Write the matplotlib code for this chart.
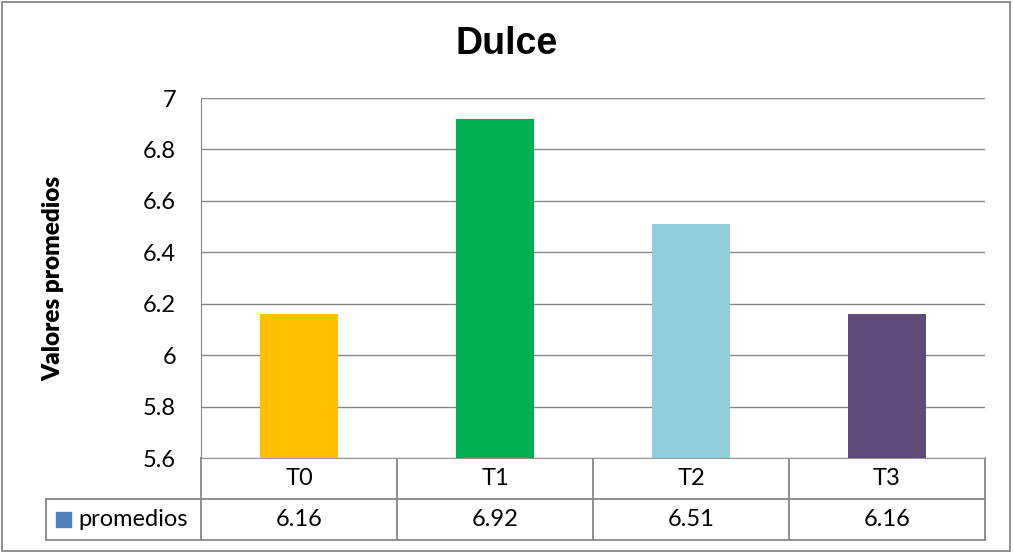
import numpy as np
import matplotlib.pyplot as plt
from matplotlib.patches import Rectangle

# Datos del grafico
tratamientos = ['T0', 'T1', 'T2', 'T3']
promedios = [6.16, 6.92, 6.51, 6.16]
colores = ['#FFC000', '#00B050', '#92CDDC', '#604A7B']
serie = 'promedios'
y_ticks = [5.6, 5.8, 6.0, 6.2, 6.4, 6.6, 6.8, 7.0]

plt.rcParams['font.family'] = ['Lato', 'DejaVu Sans']
gris = '#868686'
W, H = 1013, 554
fs = 17

fig = plt.figure(figsize=(W / 100, H / 100), dpi=100)

# Area de trazado (en pixeles del lienzo)
x0, x1, y_top, y_bot = 201, 985, 98, 458
ax = fig.add_axes([x0 / W, 1 - y_bot / H, (x1 - x0) / W, (y_bot - y_top) / H])
x = np.arange(len(tratamientos))
ax.bar(x, promedios, width=0.4, color=colores, zorder=3)
ax.set_xlim(-0.5, len(tratamientos) - 0.5)
ax.set_ylim(5.6, 7.0)
ax.set_yticks(y_ticks)
ax.set_yticklabels(['%g' % v for v in y_ticks], fontsize=fs)
ax.tick_params(axis='y', length=0, pad=18)
ax.set_xticks([])
ax.grid(axis='y', color=gris, linewidth=1, zorder=0)
for s in ['top', 'right', 'bottom']:
    ax.spines[s].set_visible(False)
ax.spines['left'].set_color(gris)

fig.text(53 / W, 1 - 278 / H, 'Valores promedios', rotation=90, ha='center',
         va='center', fontsize=17.5, fontweight='heavy')
fig.text(0.5, 1 - 44 / H, 'Dulce', ha='center', va='center', fontsize=27,
         fontweight='bold', family='Liberation Sans')

# Tabla de datos bajo el eje
tab = fig.add_axes([0, 0, 1, 1], zorder=-1)
tab.set_xlim(0, W)
tab.set_ylim(H, 0)
tab.axis('off')
r0, r1, r2 = 458, 499, 540
cw = (x1 - x0) / len(tratamientos)
lw = 1.3
tab.plot([x0, x1], [r0, r0], color=gris, lw=lw)
tab.plot([46, x1], [r1, r1], color=gris, lw=lw)
tab.plot([46, x1], [r2, r2], color=gris, lw=lw)
tab.plot([46, 46], [r1, r2], color=gris, lw=lw)
for i in range(len(tratamientos) + 1):
    xv = x0 + i * cw
    tab.plot([xv, xv], [r0, r2], color=gris, lw=lw)
for i, (t, v) in enumerate(zip(tratamientos, promedios)):
    xc = x0 + (i + 0.5) * cw
    tab.text(xc, (r0 + r1) / 2, t, ha='center', va='center', fontsize=fs)
    tab.text(xc, (r1 + r2) / 2, '%.2f' % v, ha='center', va='center', fontsize=fs)
tab.add_patch(Rectangle((56, 512), 15, 15, color='#4F81BD'))
tab.text(78, (r1 + r2) / 2, serie, ha='left', va='center', fontsize=fs)

# Borde exterior
tab.add_patch(Rectangle((2, 2), W - 5, H - 5, fill=False, edgecolor=gris, lw=1.3))

fig.savefig('out.png', dpi=100)
